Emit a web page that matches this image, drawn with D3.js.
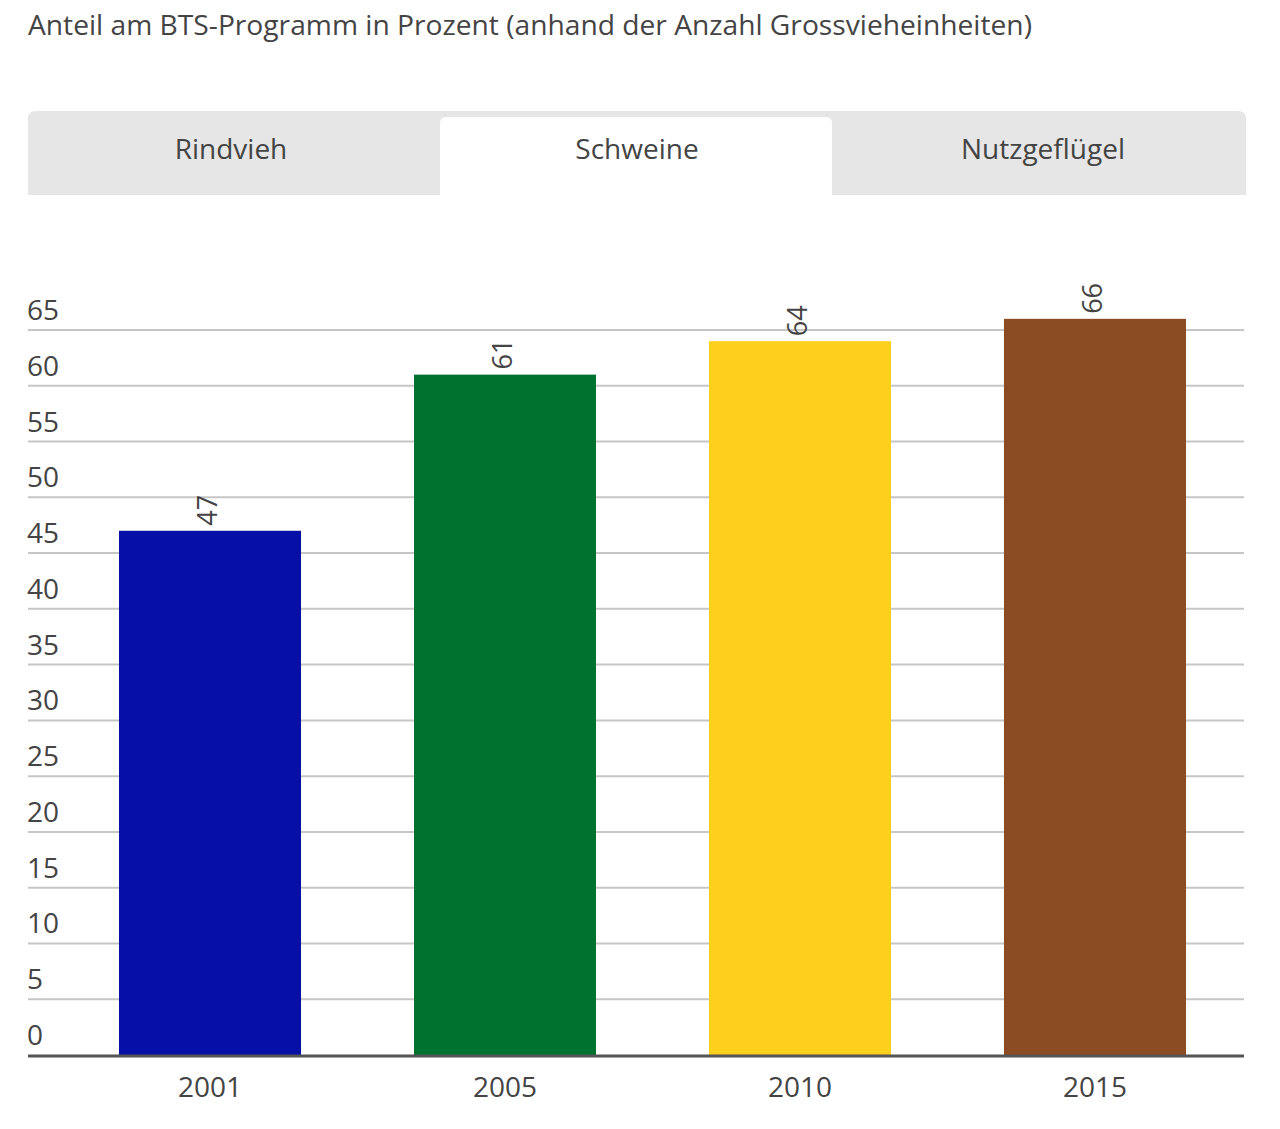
<!DOCTYPE html>
<html><head><meta charset="utf-8">
<script src="https://cdn.jsdelivr.net/npm/d3@7/dist/d3.min.js"></script>
<style>
html,body{margin:0;padding:0;background:#fff;}
svg{display:block;font-family:"Open Sans",sans-serif;}
</style></head>
<body><svg id="c" width="1280" height="1129"></svg>
<script>
const title = "Anteil am BTS-Programm in Prozent (anhand der Anzahl Grossvieheinheiten)";
const tabs = ["Rindvieh", "Schweine", "Nutzgeflügel"];
const activeTab = "Schweine";
const years = ["2001", "2005", "2010", "2015"];
const values = [47, 61, 64, 66];
const colors = ["#0710a6", "#00722f", "#fdd01c", "#8b4c24"];
const yTicks = [0, 5, 10, 15, 20, 25, 30, 35, 40, 45, 50, 55, 60, 65];

const svg = d3.select("#c");
const textColor = "#444";

svg.append("text").attr("x", 28).attr("y", 35)
  .attr("font-size", 28.2).attr("fill", textColor).text(title);

// tabs
const tabX = d3.scaleBand().domain(tabs).range([28, 1246]);
const tabTop = 111, tabBottom = 195;
svg.append("path")
  .attr("d", `M28,${tabBottom} V${tabTop+8} Q28,${tabTop} 36,${tabTop} H1238 Q1246,${tabTop} 1246,${tabTop+8} V${tabBottom} Z`)
  .attr("fill", "#e6e6e6");
tabs.forEach(t => {
  const x0 = tabX(t), w = tabX.bandwidth();
  if (t === activeTab) {
    const a = x0 + 6, b = x0 + w - 8, top = tabTop + 6;
    svg.append("path")
      .attr("d", `M${a},${tabBottom} V${top+6} Q${a},${top} ${a+6},${top} H${b-6} Q${b},${top} ${b},${top+6} V${tabBottom} Z`)
      .attr("fill", "#fff");
  }
  svg.append("text").attr("x", x0 + w / 2).attr("y", 159)
    .attr("text-anchor", "middle").attr("font-size", 28).attr("fill", textColor).text(t);
});

// chart
const y = d3.scaleLinear().domain([0, 65]).range([1055, 330]);
const x = d3.scaleBand().domain(years).range([62.5, 1242.5]).paddingInner(0.383).paddingOuter(0.1915);

const grid = svg.append("g");
grid.selectAll("line").data(yTicks.filter(d => d > 0)).join("line")
  .attr("x1", 28).attr("x2", 1244)
  .attr("y1", d => y(d)).attr("y2", d => y(d))
  .attr("stroke", "#c6c6c6").attr("stroke-width", 2);

svg.append("g").selectAll("text").data(yTicks).join("text")
  .attr("x", 27).attr("y", d => y(d) - 10)
  .attr("font-size", 28).attr("fill", textColor).text(d => d);

svg.append("g").selectAll("rect").data(values).join("rect")
  .attr("x", (d, i) => x(years[i])).attr("width", x.bandwidth())
  .attr("y", d => y(d)).attr("height", d => y(0) - y(d))
  .attr("fill", (d, i) => colors[i]);

svg.append("line").attr("x1", 28).attr("x2", 1244).attr("y1", 1056).attr("y2", 1056)
  .attr("stroke", "#555").attr("stroke-width", 3);

svg.append("g").selectAll("text").data(values).join("text")
  .attr("transform", (d, i) => `translate(${x(years[i]) + x.bandwidth() / 2 + 7},${y(d) - 5}) rotate(-90)`)
  .attr("font-size", 27).attr("fill", textColor).text(d => d);

svg.append("g").selectAll("text").data(years).join("text")
  .attr("x", d => x(d) + x.bandwidth() / 2).attr("y", 1097)
  .attr("text-anchor", "middle").attr("font-size", 28).attr("fill", textColor).text(d => d);
</script></body></html>
